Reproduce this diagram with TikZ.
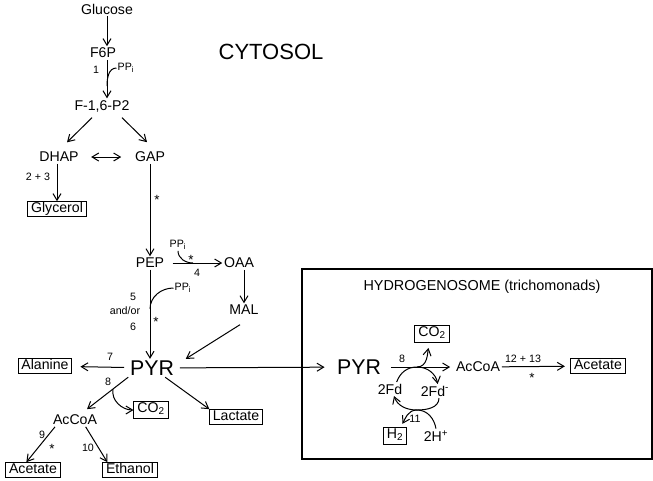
\documentclass[tikz,border=0pt]{standalone}
\usepackage{fontspec}
\setmainfont{Liberation Sans}
\usetikzlibrary{arrows.meta}

\tikzset{
    met/.style={inner sep=1pt, font=\fontsize{10.6}{12}\selectfont},
    endp/.style={draw, inner xsep=2.5pt, inner ysep=0.6pt, text height=7.6pt, text depth=2.2pt, font=\fontsize{10.6}{12}\selectfont},
    big/.style={inner sep=1pt, font=\fontsize{16}{18}\selectfont},
    enz/.style={inner sep=0.5pt, font=\fontsize{8}{9}\selectfont},
    star/.style={inner sep=0.5pt, font=\fontsize{10}{10}\selectfont}
}

\begin{document}
\begin{tikzpicture}[x=0.75pt, y=-0.75pt, line width=0.75pt, >={Straight Barb[length=5pt,width=6pt]}]
    \useasboundingbox (0, 0) rectangle (653, 480);

    % cytosol
    \node[font=\fontsize{16.5}{18}\selectfont] (cyt) at (271, 52) {CYTOSOL};
    \node[met] (glc) at (107, 9) {Glucose};
    \node[met] (f6p) at (103, 53) {F6P};
    \node[met] (f16) at (102, 106) {F-1,6-P2};
    \node[met] (dhap) at (59, 157) {DHAP};
    \node[met] (gap) at (150, 157) {GAP};
    \node[endp] (glyc) at (57, 209) {Glycerol};
    \node[met] (pep) at (150, 263) {PEP};
    \node[met] (oaa) at (239, 263) {OAA};
    \node[met] (mal) at (244, 310) {MAL};
    \node[big] (pyr) at (152, 368) {PYR};
    \node[endp] (ala) at (45, 366) {Alanine};
    \node[endp, text depth=3.5pt] (co2a) at (151, 410) {CO\textsubscript{2}};
    \node[endp] (lac) at (236, 417) {Lactate};
    \node[met] (acoa) at (75, 420) {AcCoA};
    \node[endp] (acet) at (33, 470) {Acetate};
    \node[endp] (eth) at (130, 470) {Ethanol};

    \node[enz] (e1) at (96, 70) {1};
    \node[enz] (ppi1) at (126, 68) {PP\textsubscript{i}};
    \node[enz] (e23) at (38, 177) {2 + 3};
    \node[star] (s1) at (157, 200) {*};
    \node[enz] (ppi2) at (178, 245) {PP\textsubscript{i}};
    \node[star] (s2) at (191, 260) {*};
    \node[enz] (e4) at (197, 273) {4};
    \node[enz] (ppi3) at (183, 288) {PP\textsubscript{i}};
    \node[enz] (e5) at (133, 297) {5};
    \node[enz] (eor) at (125, 311) {and/or};
    \node[enz] (e6) at (133, 327) {6};
    \node[star] (s3) at (156, 322) {*};
    \node[enz] (e7) at (110, 357) {7};
    \node[enz] (e8) at (108, 382) {8};
    \node[enz] (e9) at (42, 435) {9};
    \node[star] (s4) at (52, 449) {*};
    \node[enz] (e10) at (88, 448) {10};

    \coordinate (j1) at (107, 86);
    \coordinate (j2) at (193, 263);
    \coordinate (j3) at (150, 309);
    \coordinate (j4) at (113, 389);

    % hydrogenosome
    \node[draw, line width=1.1pt, minimum width=262.5pt, minimum height=142.5pt] (hbox) at (477, 364) {};
    \node[met, font=\fontsize{10.8}{12}\selectfont] (hlab) at (482, 287) {HYDROGENOSOME (trichomonads)};
    \node[big] (hpyr) at (359, 367) {PYR};
    \node[met] (hacoa) at (478, 367) {AcCoA};
    \node[endp] (hace) at (598, 366) {Acetate};
    \node[endp, text depth=3.5pt] (hco2) at (432, 334) {CO\textsubscript{2}};
    \node[met] (fd) at (390, 389) {2Fd};
    \node[met] (fdr) at (435, 391) {2Fd\textsuperscript{-}};
    \node[endp, text depth=3.5pt] (h2) at (395, 436) {H\textsubscript{2}};
    \node[met] (hp) at (436, 436) {2H\textsuperscript{+}};

    \node[enz] (h8) at (402, 359) {8};
    \node[enz] (e1213) at (523, 359) {12 + 13};
    \node[star] (s5) at (532, 378) {*};
    \node[enz] (e11) at (415, 419) {11};

    \coordinate (hj) at (417, 367);
    \coordinate (hk) at (417, 410);

    \draw[->] (glc) -- (glc |- f6p.north);
    \draw[->] (f6p.south -| glc) -- (glc |- f16.north);
    \draw (ppi1.west) to[out=180, in=90] (j1);
    \draw[->] ([shift={(-10,4)}]f16.south) -- ([shift={(8,-8)}]dhap.north);
    \draw[->] ([shift={(20,4)}]f16.south) -- ([shift={(-3,-8)}]gap.north);
    \draw[<->, shorten <=8pt, shorten >=9pt] (dhap) -- (gap);
    \draw[->] (dhap.south -| glyc) -- (glyc.north);
    \draw[->] (gap) -- (pep);
    \draw[->, shorten <=5pt] (pep) -- (oaa);
    \draw (ppi2.south) to[out=-90, in=180] (j2);
    \draw[->] (mal |- oaa.south) -- (mal.north);
    \draw[->] ([shift={(-4,8)}]mal.south) -- ([shift={(10,0)}]pyr.north east);
    \draw[->] (pep.south) -- (pep.south |- pyr.north);
    \draw (ppi3.west) to[out=180, in=90] (j3);
    \draw[->, shorten <=3pt, shorten >=6pt] (pyr) -- (ala);
    \draw[->] (pyr.south west) -- ([shift={(12,-4)}]acoa.north);
    \draw[->] (j4) to[out=-100, in=180] (co2a.west);
    \draw[->] ([xshift=-8]pyr.south east) -- ([xshift=-20]lac.north);
    \draw[->] ([xshift=-15]acoa.south) -- ([xshift=-5]acet.north);
    \draw[->] ([xshift=8]acoa.south) -- ([xshift=-17]eth.north);

    \draw[->, shorten <=3pt, shorten >=8pt] (pyr) -- (hpyr);
    \draw[->, shorten <=6pt, shorten >=3pt] (hpyr) -- (hacoa);
    \draw[->, shorten >=4pt] (hacoa) -- (hace);
    \draw[->, shorten >=4pt] (hj) to[out=0, in=-100] ([xshift=-2]hco2.south);
    \draw[->] ([xshift=5]fd.north) to[out=70, in=180] (hj) to[out=0, in=100] ([xshift=2]fdr.north);
    \draw[->] ([xshift=3]fdr.south) to[out=-90, in=0] (hk) to[out=180, in=-70] ([xshift=3]fd.south);
    \draw[->, shorten >=3pt] (hp.north) to[out=100, in=0] (hk) to[out=180, in=60] ([xshift=4]h2.north);
\end{tikzpicture}
\end{document}
